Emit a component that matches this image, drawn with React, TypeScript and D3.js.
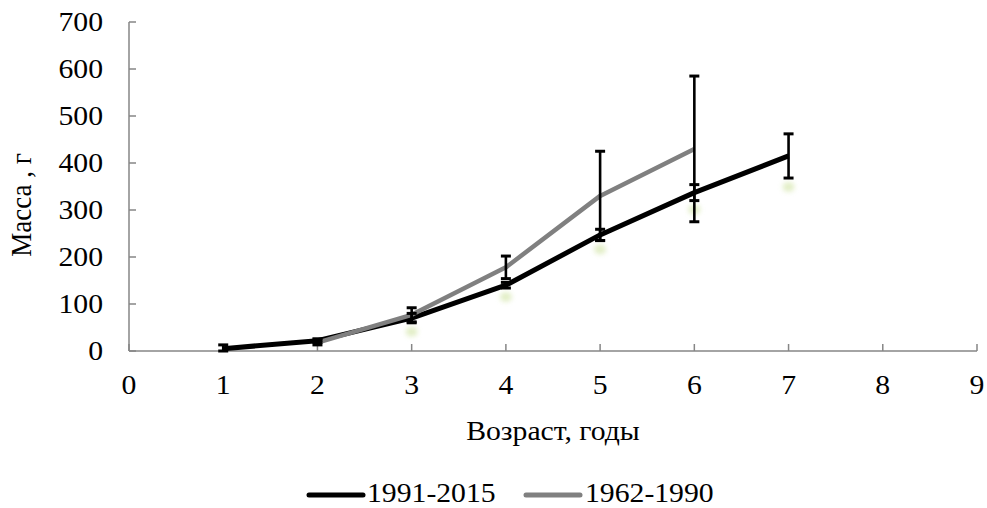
import React from "react";
import * as d3 from "d3";

const WIDTH = 987;
const HEIGHT = 508;

// 1991-2015 (black)
const agesRecent = [1, 2, 3, 4, 5, 6, 7];
const massRecent = [5, 22, 70, 140, 247, 337, 415];
const errRecent = [8, 4, 10, 6, 12, 17, 47];

// 1962-1990 (gray)
const agesOld = [2, 3, 4, 5, 6];
const massOld = [18, 77, 178, 330, 430];
const errOld = [5, 15, 24, 95, 155];

const xTicks = [0, 1, 2, 3, 4, 5, 6, 7, 8, 9];
const yTicks = [0, 100, 200, 300, 400, 500, 600, 700];

const seriesNames = ["1991-2015", "1962-1990"];

const FONT = "'Liberation Serif', 'Times New Roman', serif";
const AXIS_COLOR = "#868686";
const FS = 27;
const SX = 1.1; // reference text is a bit wider than it is tall

type Pt = { x: number; y: number; e: number };

const Txt = ({ x, y, anchor = "start", dy, rotate, children }: any) => (
  <text
    transform={`translate(${x},${y})${rotate ? ` rotate(${rotate})` : ""} scale(${rotate ? 1 : SX},${rotate ? SX : 1})`}
    textAnchor={anchor}
    dy={dy}
  >
    {children}
  </text>
);

const App = () => {
  const x = d3.scaleLinear().domain([0, 9]).range([129, 977]);
  const y = d3.scaleLinear().domain([0, 700]).range([351, 22]);

  const recent: Pt[] = agesRecent.map((a, i) => ({ x: a, y: massRecent[i], e: errRecent[i] }));
  const old: Pt[] = agesOld.map((a, i) => ({ x: a, y: massOld[i], e: errOld[i] }));

  const line = d3
    .line<Pt>()
    .x((d) => x(d.x))
    .y((d) => y(d.y));

  const errBars = (pts: Pt[], key: string) =>
    pts.map((d, i) => {
      const cx = x(d.x);
      const top = y(d.y + d.e);
      const bot = y(Math.max(0, d.y - d.e));
      return (
        <g key={key + i} stroke="#000" strokeWidth={2.6}>
          <line x1={cx} x2={cx} y1={top} y2={bot} />
          <line x1={cx - 5} x2={cx + 5} y1={top} y2={top} strokeWidth={3} />
          <line x1={cx - 5} x2={cx + 5} y1={bot} y2={bot} strokeWidth={3} />
        </g>
      );
    });

  // faint green glow under the black error bars
  const glows = recent.slice(2).map((d, i) => (
    <ellipse
      key={"g" + i}
      cx={x(d.x)}
      cy={y(d.y - d.e) + 9}
      rx={6}
      ry={5}
      fill="#cfe3a0"
      opacity={0.6}
      filter="url(#glow)"
    />
  ));

  return (
    <div style={{ position: "absolute", left: 0, top: 0 }}>
      <svg width={WIDTH} height={HEIGHT} style={{ display: "block", background: "#fff" }}>
        <defs>
          <filter id="glow" x="-100%" y="-100%" width="300%" height="300%">
            <feGaussianBlur stdDeviation="2.5" />
          </filter>
        </defs>

        {glows}

        {/* axes */}
        <g stroke={AXIS_COLOR} strokeWidth={1.5}>
          <line x1={x(0)} x2={x(0)} y1={y(0)} y2={y(700)} />
          <line x1={x(0)} x2={x(9)} y1={y(0)} y2={y(0)} />
          {yTicks.map((t) => (
            <line key={"yt" + t} x1={x(0)} x2={x(0) + 7} y1={y(t)} y2={y(t)} />
          ))}
          {xTicks.map((t) => (
            <line key={"xt" + t} x1={x(t)} x2={x(t)} y1={y(0)} y2={y(0) - 7} />
          ))}
        </g>

        <g fontFamily={FONT} fontSize={FS} fill="#000">
          {yTicks.map((t) => (
            <Txt key={"yl" + t} x={x(0) - 26} y={y(t)} dy="0.35em" anchor="end">
              {t}
            </Txt>
          ))}
          {xTicks.map((t) => (
            <Txt key={"xl" + t} x={x(t)} y={y(0) + 43} anchor="middle">
              {t}
            </Txt>
          ))}
          <Txt x={553} y={440} anchor="middle">
            Возраст, годы
          </Txt>
          <Txt x={31} y={205} rotate={-90} anchor="middle">
            Масса , г
          </Txt>
        </g>

        {/* series */}
        <path d={line(recent) || ""} fill="none" stroke="#000" strokeWidth={5} strokeLinejoin="round" />
        <path d={line(old) || ""} fill="none" stroke="#808080" strokeWidth={4.5} strokeLinejoin="round" />

        {errBars(recent, "r")}
        {errBars(old, "o")}

        {/* legend */}
        <g fontFamily={FONT} fontSize={FS}>
          <line x1={309} x2={363} y1={495} y2={495} stroke="#000" strokeWidth={5} strokeLinecap="round" />
          <Txt x={367} y={502}>{seriesNames[0]}</Txt>
          <line x1={526} x2={580} y1={495} y2={495} stroke="#808080" strokeWidth={5} strokeLinecap="round" />
          <Txt x={585} y={502}>{seriesNames[1]}</Txt>
        </g>
      </svg>
    </div>
  );
};

export default App;
